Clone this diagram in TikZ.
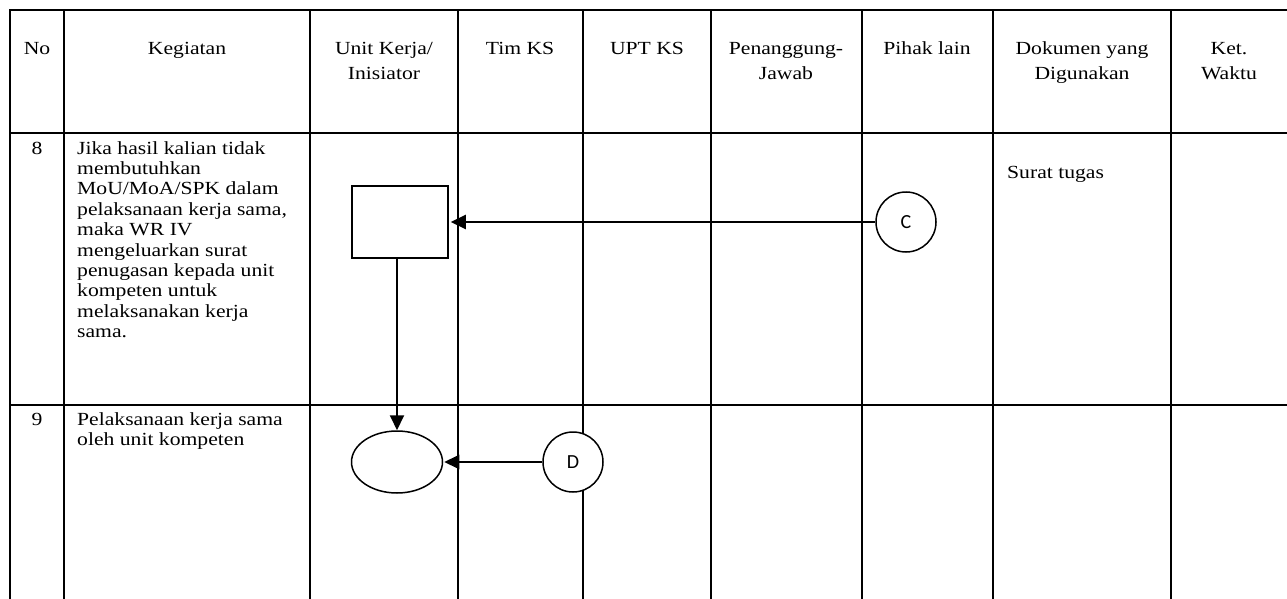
\documentclass[tikz,border=0pt]{standalone}
\usepackage{fontspec}
\setmainfont{Liberation Serif}[FakeStretch=1.17]
\newfontfamily\lblfont{Carlito}
\usetikzlibrary{arrows.meta,shapes.geometric}
\begin{document}
\begin{tikzpicture}[x=1pt,y=-1pt,
  gridline/.style={line width=2pt, line cap=rect},
  hdr/.style={anchor=base, inner sep=0pt, font=\fontsize{18.5}{25}\selectfont},
  body/.style={anchor=base west, inner sep=0pt, font=\fontsize{18.5}{20.4}\selectfont},
  num/.style={anchor=base, inner sep=0pt, font=\fontsize{18.5}{20.4}\selectfont},
  proc/.style={draw, line width=1.5pt, fill=white, minimum width=96pt, minimum height=72pt, inner sep=0pt},
  term/.style={draw, ellipse, line width=1.5pt, fill=white, minimum width=91pt, minimum height=62pt, inner sep=0pt},
  conn/.style={circle, draw, line width=1.5pt, fill=white, minimum size=60pt, inner sep=0pt, font=\lblfont\fontsize{20}{20}\selectfont},
  flow/.style={line width=2pt, -{Triangle[length=15pt,width=14pt]}}
]
\useasboundingbox (0,0) rectangle (1287,599);
% table grid
\foreach \x in {10,64,310,458,583,711,862,993,1171}
  \draw[gridline] (\x,10) -- (\x,599);
\foreach \y in {10,133,405}
  \draw[gridline] (10,\y) -- (1287,\y);
% header
\node[hdr] (hNo) at (37,55) {No};
\node[hdr] (hKeg) at (187,55) {Kegiatan};
\node[hdr] (hUnit) at (384,55) {\begin{tabular}[t]{@{}c@{}}Unit Kerja/\\Inisiator\end{tabular}};
\node[hdr] (hTim) at (520,55) {Tim KS};
\node[hdr] (hUpt) at (647,55) {UPT KS};
\node[hdr] (hPj) at (786,55) {\begin{tabular}[t]{@{}c@{}}Penanggung-\\Jawab\end{tabular}};
\node[hdr] (hPl) at (927,55) {Pihak lain};
\node[hdr] (hDok) at (1082,55) {\begin{tabular}[t]{@{}c@{}}Dokumen yang\\Digunakan\end{tabular}};
\node[hdr] (hKet) at (1229,55) {\begin{tabular}[t]{@{}c@{}}Ket.\\Waktu\end{tabular}};
% row 8
\node[num] (n8) at (37,154) {8};
\node[body] (k8) at (77,154) {\begin{tabular}[t]{@{}l@{}}Jika hasil kalian tidak\\membutuhkan\\MoU/MoA/SPK dalam\\pelaksanaan kerja sama,\\maka WR IV\\mengeluarkan surat\\penugasan kepada unit\\kompeten untuk\\melaksanakan kerja\\sama.\end{tabular}};
\node[body] (d8) at (1007,178) {Surat tugas};
% row 9
\node[num] (n9) at (37,425) {9};
\node[body] (k9) at (77,425) {\begin{tabular}[t]{@{}l@{}}Pelaksanaan kerja sama\\oleh unit kompeten\end{tabular}};
% flow shapes
\node[proc] (P) at (400,222) {};
\node[conn] (C) at (906,222) {C};
\node[term] (E) at (397,462) {};
\node[conn] (D) at (573,462) {D};
% connectors
\draw[flow, shorten >=2pt] (C) -- (P);
\draw[flow] (E.north |- P.south) -- (E.north);
\draw[flow, shorten >=1pt] (D) -- (E);
\end{tikzpicture}
\end{document}
